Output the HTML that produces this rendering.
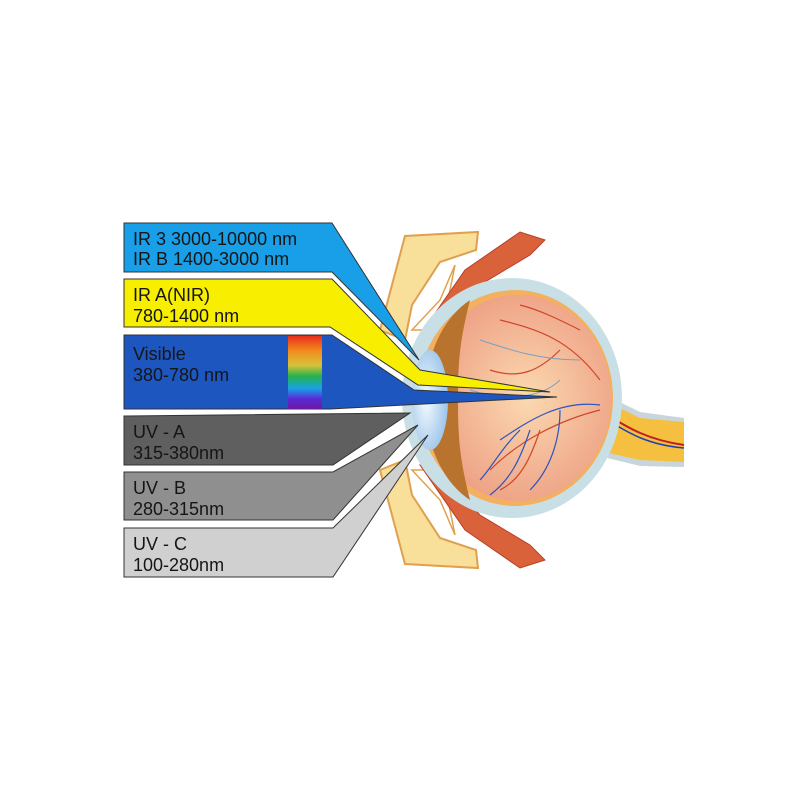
<!DOCTYPE html>
<html><head><meta charset="utf-8"><style>
body{margin:0;background:#fff}
svg{display:block}
text{font-family:"Liberation Sans",sans-serif;font-size:18px;fill:#151515}
</style></head><body>
<svg width="800" height="800" viewBox="0 0 800 800">
<defs>
<linearGradient id="rb" x1="0" y1="0" x2="0" y2="1">
<stop offset="0" stop-color="#e8301c"/><stop offset="0.2" stop-color="#f28a1c"/><stop offset="0.4" stop-color="#d8c23a"/><stop offset="0.55" stop-color="#24b24a"/><stop offset="0.72" stop-color="#1aa0e8"/><stop offset="0.86" stop-color="#5a2ad8"/><stop offset="1" stop-color="#6a1aa0"/>
</linearGradient>
<radialGradient id="ret" cx="0.55" cy="0.5" r="0.6"><stop offset="0" stop-color="#fbd9b0"/><stop offset="1" stop-color="#ec9a80"/></radialGradient>
<radialGradient id="cor" cx="0.4" cy="0.5" r="0.6"><stop offset="0" stop-color="#f4fbff"/><stop offset="1" stop-color="#9cc4ea"/></radialGradient>
</defs>
<!-- bones & muscles top -->
<path d="M380 330 L405 236 L478 232 L476 250 L440 262 L412 305 L405 340 Z" fill="#f8df9a" stroke="#e0a050" stroke-width="2"/>
<path d="M412 330 L440 300 L455 265 L448 300 L430 330 Z" fill="#fff" stroke="#e0a050" stroke-width="1.5"/>
<path d="M420 335 L465 270 L520 232 L545 240 L530 255 L480 285 L440 330 Z" fill="#d9623a" stroke="#b8402a" stroke-width="1"/>
<!-- bottom -->
<path d="M380 470 L405 564 L478 568 L476 550 L440 538 L412 495 L405 460 Z" fill="#f8df9a" stroke="#e0a050" stroke-width="2"/>
<path d="M412 470 L440 500 L455 535 L448 500 L430 470 Z" fill="#fff" stroke="#e0a050" stroke-width="1.5"/>
<path d="M420 465 L465 530 L520 568 L545 560 L530 545 L480 515 L440 470 Z" fill="#d9623a" stroke="#b8402a" stroke-width="1"/>
<!-- optic nerve -->
<path d="M595 390 L640 412 L684 418 L684 467 L640 466 L595 455 Z" fill="#c8d6dc"/>
<path d="M595 396 L640 418 L684 422 L684 462 L640 460 L595 450 Z" fill="#f5c040"/>
<path d="M600 410 C630 430 650 440 684 445" stroke="#c02020" stroke-width="2" fill="none"/>
<path d="M600 415 C630 435 650 445 684 448" stroke="#2040b0" stroke-width="1.5" fill="none"/>
<!-- sclera -->
<ellipse cx="512" cy="398" rx="110" ry="120" fill="#c9dfe6"/>
<ellipse cx="515" cy="398" rx="98" ry="108" fill="#f2b060"/>
<ellipse cx="518" cy="398" rx="93" ry="103" fill="url(#ret)"/>
<path d="M470 300 C440 320 425 360 425 400 C425 440 440 480 470 500 C460 460 458 440 458 400 C458 360 460 340 470 300 Z" fill="#b8742e"/>
<g stroke="#d2452a" stroke-width="1.2" fill="none">
<path d="M600 380 C570 340 540 330 500 320"/><path d="M560 350 C540 370 520 380 490 370"/><path d="M600 410 C560 420 520 440 490 470"/><path d="M540 430 C530 460 520 480 500 490"/><path d="M580 330 C560 320 540 310 520 305"/>
</g>
<g stroke="#2a55c0" stroke-width="1.2" fill="none">
<path d="M600 405 C560 400 530 420 500 440"/><path d="M560 410 C560 440 550 470 530 490"/><path d="M520 430 C500 450 490 470 480 480"/><path d="M530 430 C520 460 510 480 490 495"/>
</g>
<g stroke="#7aa0c0" stroke-width="1" fill="none"><path d="M580 360 C540 360 510 350 480 340"/><path d="M560 380 C540 400 500 400 470 390"/></g>
<ellipse cx="430" cy="400" rx="18" ry="50" fill="url(#cor)"/>
<!-- bands -->
<g stroke="#333" stroke-width="1">
<polygon points="124,223 332,223 419,360 332,272 124,272" fill="#199fe8"/>
<polygon points="124,279 332,279 420,370 550,392 418,385 330,327 124,327" fill="#f7ee00"/>
<polygon points="124,335 332,335 414,390 557,397 330,409 124,409" fill="#1e56c0"/>
<polygon points="124,416 410,413 333,465 124,465" fill="#5f5f5f"/>
<polygon points="124,472 333,472 418,425 333,520 124,520" fill="#8f8f8f"/>
<polygon points="124,528 333,528 428,435 333,577 124,577" fill="#d0d0d0"/>
</g>
<rect x="288" y="336" width="34" height="73" fill="url(#rb)"/>
<text x="133" y="245">IR 3 3000-10000 nm</text>
<text x="133" y="265">IR B 1400-3000 nm</text>
<text x="133" y="301">IR A(NIR)</text>
<text x="133" y="322">780-1400 nm</text>
<text x="133" y="360">Visible</text>
<text x="133" y="381">380-780 nm</text>
<text x="133" y="438">UV - A</text>
<text x="133" y="459">315-380nm</text>
<text x="133" y="494">UV - B</text>
<text x="133" y="515">280-315nm</text>
<text x="133" y="550">UV - C</text>
<text x="133" y="571">100-280nm</text>
</svg>
</body></html>
